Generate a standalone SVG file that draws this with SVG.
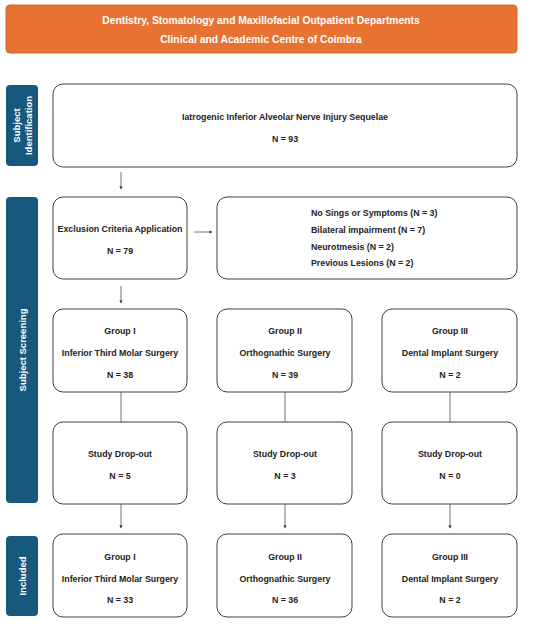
<svg xmlns="http://www.w3.org/2000/svg" width="550" height="628" viewBox="0 0 550 628">
<style>
.box{fill:#fff;stroke:#404040;stroke-width:1}
.side{fill:#17597C}
.t{font-family:"Liberation Sans",Arial,sans-serif;font-weight:bold;font-size:8.8px;fill:#222;text-anchor:middle}
.tl{text-anchor:start}
.st{font-family:"Liberation Sans",Arial,sans-serif;font-weight:bold;font-size:9.5px;fill:#fff;text-anchor:middle}
.ht{font-family:"Liberation Sans",Arial,sans-serif;font-weight:bold;font-size:10.3px;fill:#fff;text-anchor:middle}
.c{stroke:#505050;stroke-width:0.8;fill:none}
.ca{stroke:#505050;stroke-width:0.8;fill:none;marker-end:url(#ah)}
</style>
<defs>
<marker id="ah" viewBox="0 0 6 6" refX="5" refY="3" markerWidth="4" markerHeight="4" orient="auto">
<path d="M0,0 L6,3 L0,6 z" fill="#404040"/>
</marker>
</defs>
<rect width="550" height="628" fill="#fff"/>
<g id="header">
<rect x="6" y="5" width="511" height="48" rx="4" fill="#E87232" stroke="#C8692C" stroke-width="1"/>
<text class="ht" x="261" y="23.5">Dentistry, Stomatology and Maxillofacial Outpatient Departments</text>
<text class="ht" x="261" y="43">Clinical and Academic Centre of Coimbra</text>
</g>
<g id="side-identification">
<rect class="side" x="6" y="85" width="32" height="81" rx="4"/>
<text class="st" transform="translate(22,125.5) rotate(-90)"><tspan x="0" y="-2">Subject</tspan><tspan x="0" y="10">Identification</tspan></text>
</g>
<g id="side-screening">
<rect class="side" x="6" y="197" width="32" height="306" rx="4"/>
<text class="st" transform="translate(22,350) rotate(-90)" y="3.5">Subject Screening</text>
</g>
<g id="side-included">
<rect class="side" x="6" y="536" width="32" height="80" rx="4"/>
<text class="st" transform="translate(22,576) rotate(-90)" y="3.5">Included</text>
</g>
<g id="connectors">
<path class="ca" d="M121,172 V189"/>
<path class="ca" d="M194,232 H212"/>
<path class="ca" d="M121,286 V303"/>
<path class="c" d="M121,392 V422"/>
<path class="c" d="M285,392 V422"/>
<path class="c" d="M450,392 V422"/>
<path class="ca" d="M121,504 V528"/>
<path class="ca" d="M285,504 V528"/>
<path class="ca" d="M450,504 V528"/>
</g>
<g id="n-injury">
<rect class="box" x="53" y="84" width="464" height="83" rx="10"/>
<text class="t" x="285" y="120">Iatrogenic Inferior Alveolar Nerve Injury Sequelae</text>
<text class="t" x="285" y="142">N = 93</text>
</g>
<g id="n-exclusion">
<rect class="box" x="53" y="197" width="134" height="82" rx="10"/>
<text class="t" x="120" y="232">Exclusion Criteria Application</text>
<text class="t" x="120" y="254">N = 79</text>
</g>
<g id="n-excluded-list">
<rect class="box" x="217" y="197" width="300" height="82" rx="10"/>
<text class="t tl" x="311" y="216">No Sings or Symptoms (N = 3)</text>
<text class="t tl" x="311" y="233">Bilateral impairment (N = 7)</text>
<text class="t tl" x="311" y="250">Neurotmesis (N = 2)</text>
<text class="t tl" x="311" y="266">Previous Lesions (N = 2)</text>
</g>
<g id="n-g1">
<rect class="box" x="53" y="309" width="134" height="83" rx="10"/>
<text class="t" x="120" y="334">Group I</text>
<text class="t" x="120" y="356">Inferior Third Molar Surgery</text>
<text class="t" x="120" y="378">N = 38</text>
</g>
<g id="n-g2">
<rect class="box" x="217" y="309" width="135" height="83" rx="10"/>
<text class="t" x="285" y="334">Group II</text>
<text class="t" x="285" y="356">Orthognathic Surgery</text>
<text class="t" x="285" y="378">N = 39</text>
</g>
<g id="n-g3">
<rect class="box" x="382" y="309" width="135" height="83" rx="10"/>
<text class="t" x="450" y="334">Group III</text>
<text class="t" x="450" y="356">Dental Implant Surgery</text>
<text class="t" x="450" y="378">N = 2</text>
</g>
<g id="n-d1">
<rect class="box" x="53" y="422" width="134" height="82" rx="10"/>
<text class="t" x="120" y="457">Study Drop-out</text>
<text class="t" x="120" y="479">N = 5</text>
</g>
<g id="n-d2">
<rect class="box" x="217" y="422" width="135" height="82" rx="10"/>
<text class="t" x="285" y="457">Study Drop-out</text>
<text class="t" x="285" y="479">N = 3</text>
</g>
<g id="n-d3">
<rect class="box" x="382" y="422" width="135" height="82" rx="10"/>
<text class="t" x="450" y="457">Study Drop-out</text>
<text class="t" x="450" y="479">N = 0</text>
</g>
<g id="n-i1">
<rect class="box" x="53" y="534" width="134" height="83" rx="10"/>
<text class="t" x="120" y="560">Group I</text>
<text class="t" x="120" y="582">Inferior Third Molar Surgery</text>
<text class="t" x="120" y="603">N = 33</text>
</g>
<g id="n-i2">
<rect class="box" x="217" y="534" width="135" height="83" rx="10"/>
<text class="t" x="285" y="560">Group II</text>
<text class="t" x="285" y="582">Orthognathic Surgery</text>
<text class="t" x="285" y="603">N = 36</text>
</g>
<g id="n-i3">
<rect class="box" x="382" y="534" width="135" height="83" rx="10"/>
<text class="t" x="450" y="560">Group III</text>
<text class="t" x="450" y="582">Dental Implant Surgery</text>
<text class="t" x="450" y="603">N = 2</text>
</g>
</svg>
